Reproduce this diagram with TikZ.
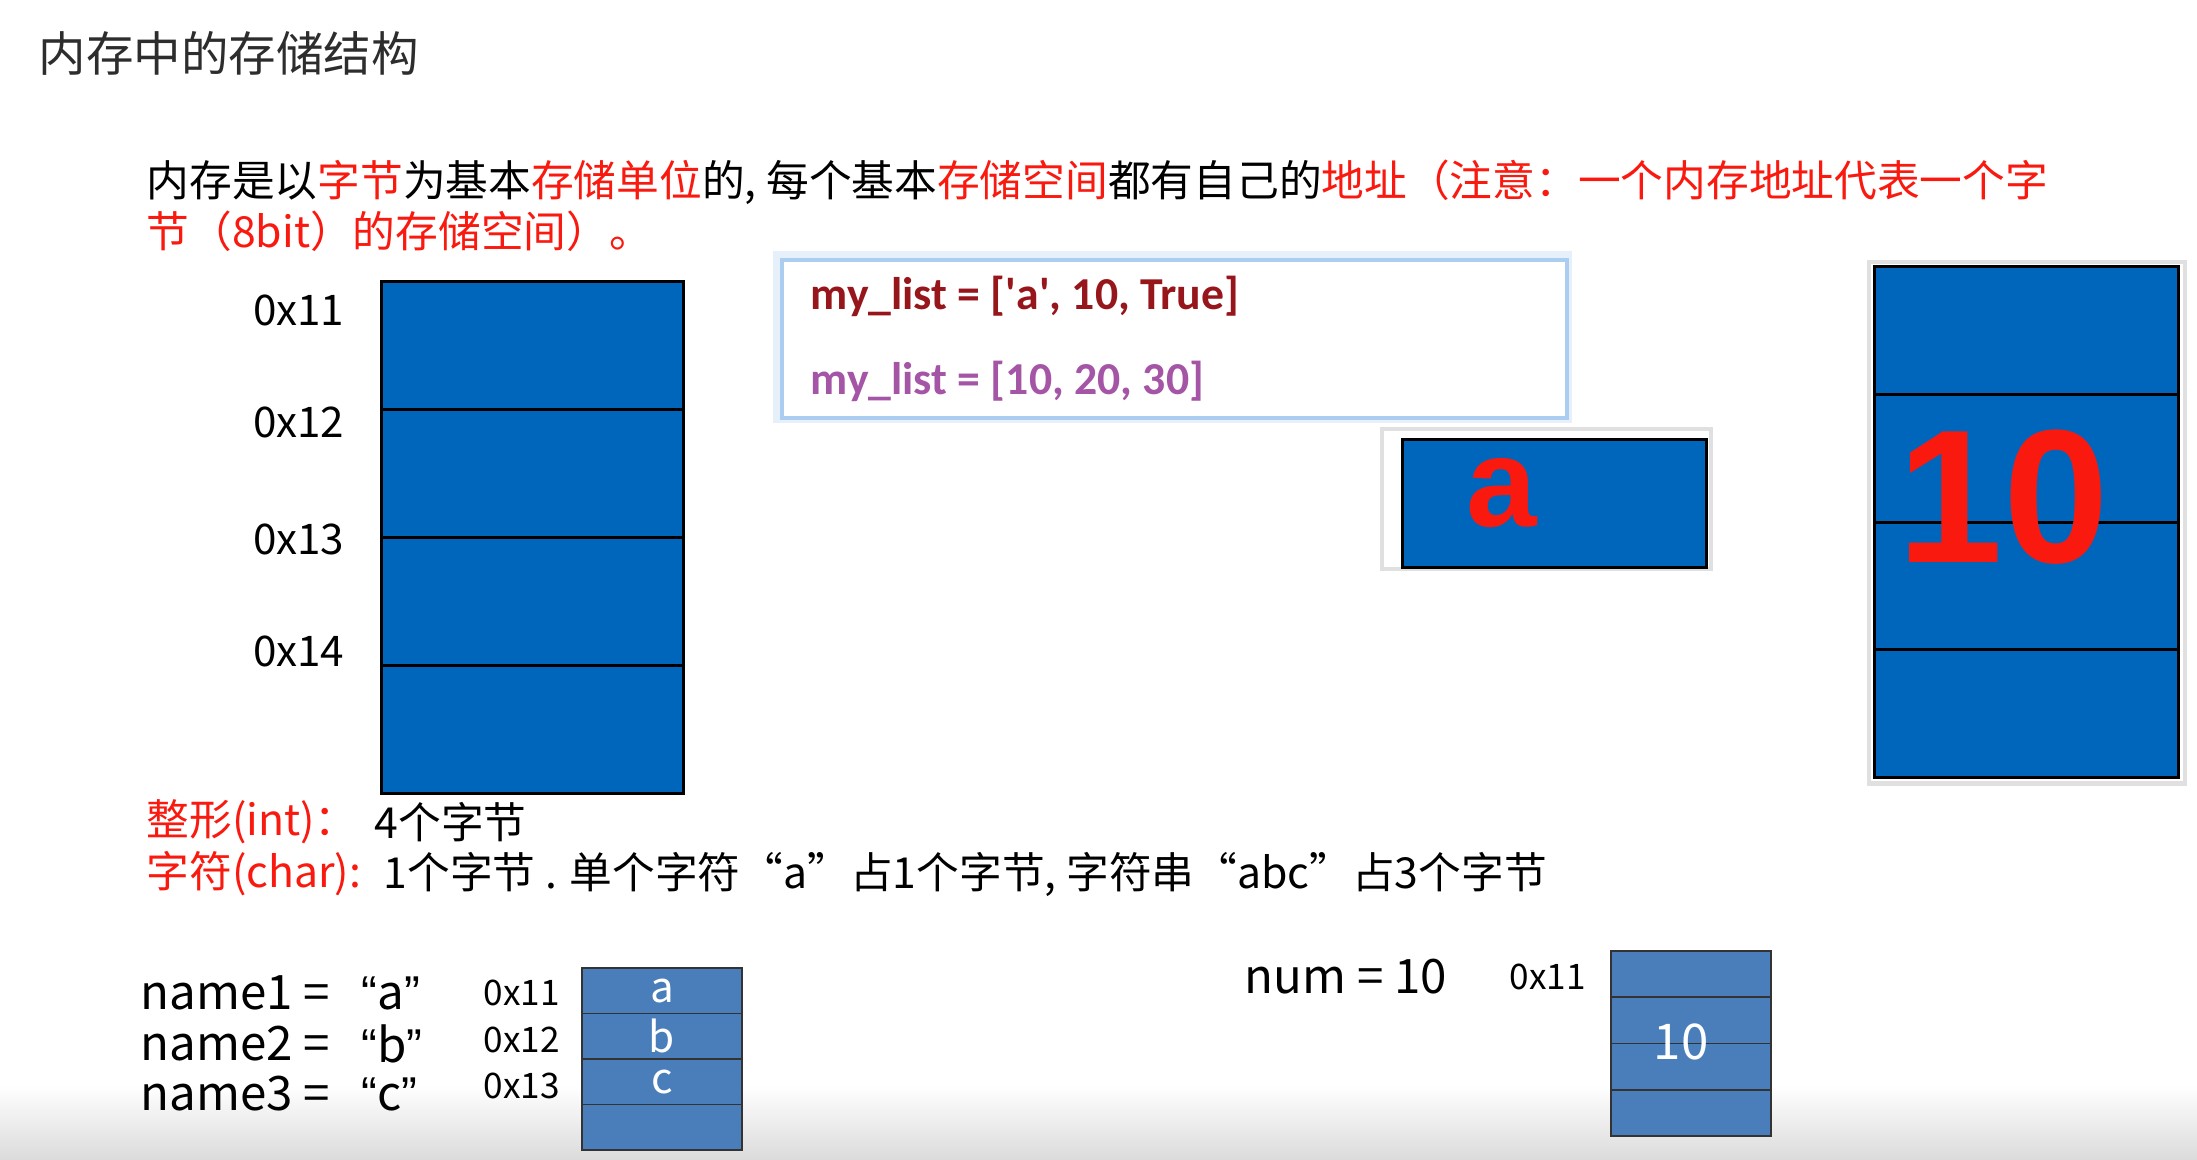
\documentclass[tikz,border=0pt]{standalone}
\usepackage{fontspec}
\setmainfont{Noto Sans CJK SC}
\newfontfamily\codefont{Carlito}
\newfontfamily\bigfont{Liberation Sans}
\usetikzlibrary{positioning}
\definecolor{memblue}{RGB}{0,102,187}
\definecolor{cellblue}{RGB}{74,126,187}
\definecolor{hired}{RGB}{250,25,15}
\definecolor{codered}{RGB}{150,22,28}
\definecolor{codepurple}{RGB}{165,85,165}
\definecolor{titlegray}{RGB}{45,45,45}
\definecolor{glowblue}{RGB}{170,205,240}
\newcommand{\strquote}[1]{{\bigfont “}#1{\bigfont ”}}
\tikzset{
  txt/.style={anchor=west, inner sep=0pt, font=\fontsize{12.15}{14}\selectfont},
  bigtxt/.style={txt, font=\fontsize{13.5}{16}\selectfont},
  bigcell/.style={draw=black, fill=memblue, line width=0.9pt, minimum width=3.02cm,
                  minimum height=1.28cm, anchor=north west, inner sep=0pt},
  smallcell/.style={draw=black!80, fill=cellblue, line width=0.5pt, minimum width=1.6cm,
                    anchor=north west, inner sep=0pt, text=white, font=\fontsize{12}{14}\selectfont},
  addr/.style={anchor=east, inner sep=0pt, font=\fontsize{12}{14}\selectfont},
  saddr/.style={anchor=west, inner sep=0pt, font=\fontsize{10}{12}\selectfont},
  codeline/.style={anchor=west, inner sep=0pt, font=\codefont\bfseries\fontsize{13}{15}\selectfont},
  codebox/.style={draw=glowblue, fill=white, line width=1pt, anchor=north west},
  shadowbox/.style={fill=white, draw=black!12, line width=1.2pt, anchor=north west},
  bigletter/.style={text=hired, inner sep=0pt, font=\bigfont\bfseries\fontsize{#1}{#1}\selectfont},
}
\begin{document}
\begin{tikzpicture}[x=0.01cm, y=-0.01cm]
  \useasboundingbox (0,0) rectangle (2197,1159);
  \fill[white] (0,0) rectangle (2197,1159);
  \shade[top color=white, bottom color=black!14] (0,1085) rectangle (2197,1159);

  % heading and intro
  \node[txt, font=\fontsize{13.5}{16}\selectfont, text=titlegray] (title) at (38,53) {内存中的存储结构};
  \node[txt] (line1) at (146,182) {内存是以\textcolor{hired}{字节}为基本\textcolor{hired}{存储单位}的, 每个基本\textcolor{hired}{存储空间}都有自己的\textcolor{hired}{地址（注意：一个内存地址代表一个字}};
  \node[txt, text=hired] (line2) at (146,231) {节（8bit）的存储空间）。};

  % four bytes of memory
  \foreach \i in {1,...,4}
    \node[bigcell] (m\i) at (380,{280+128*(\i-1)}) {};
  \foreach \i/\y in {1/310,2/422,3/539,4/651}
    \node[addr] (a\i) at (345,\y) {0x1\i};

  % code sample
  \draw[glowblue!30, line width=4pt] (780,258) rectangle (1565,416);
  \node[codebox, minimum width=7.85cm, minimum height=1.58cm] (code) at (780,258) {};
  \node[codeline, text=codered] (code1) at (810,296) {my\_list = [\textquotesingle a\textquotesingle, 10, True]};
  \node[codeline, text=codepurple] (code2) at (810,381) {my\_list = [10, 20, 30]};

  % one char
  \node[shadowbox, minimum width=3.29cm, minimum height=1.4cm] (abox) at (1380,427) {};
  \node[bigcell, minimum width=3.04cm, minimum height=1.28cm] (acell) at (1401,438) {};
  \node[bigletter=36] (alet) at (1502,493) {a};

  % one int
  \node[shadowbox, minimum width=3.16cm, minimum height=5.21cm] (tenbox) at (1867,260) {};
  \foreach \i in {1,...,4}
    \node[bigcell, minimum width=3.04cm, minimum height=1.2775cm] (t\i) at (1873,{265+127.75*(\i-1)}) {};
  \node[bigletter=54] (tenlbl) at (2003,497) {10};

  % sizes
  \node[txt, text=hired] (intlbl) at (146,822) {整形(int)：};
  \node[txt] (intval) at (374,822) {4个字节};
  \node[txt, text=hired] (chrlbl) at (146,874) {字符(char):};
  \node[txt] (chrval) at (383,874) {1个字节 . 单个字符“a”占1个字节, 字符串“abc”占3个字节};

  % strings example
  \foreach \v/\y [count=\i] in {a/993,b/1044,c/1094} {
    \node[bigtxt] (n\i) at (140,\y) {name\i\ =};
    \node[bigtxt] (q\i) at (361,\y) {\strquote{\v}};
  }
  \foreach \i/\y in {1/993,2/1040,3/1086}
    \node[saddr] (s\i) at (483,\y) {0x1\i};
  \foreach \v [count=\i] in {a,b,c,{}}
    \node[smallcell, minimum height=0.455cm] (b\i) at (581,{967+45.5*(\i-1)}) {\v};

  % int example
  \node[bigtxt] (numtxt) at (1244,977) {num = 10};
  \node[saddr] (numaddr) at (1509,977) {0x11};
  \foreach \i in {1,...,4}
    \node[smallcell, minimum height=0.4625cm] (r\i) at (1610,{950+46.25*(\i-1)}) {};
  \node[text=white, inner sep=0pt, font=\fontsize{14}{16}\selectfont] (numval) at (1681,1042) {10};
\end{tikzpicture}
\end{document}
